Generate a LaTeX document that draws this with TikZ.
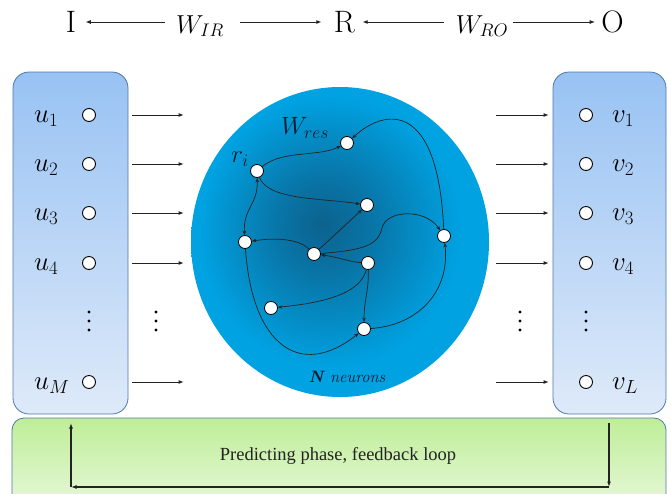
\RequirePackage{fix-cm}
\documentclass[tikz,border=0pt]{standalone}
\usepackage{amsmath}
\usepackage{fontspec}
\usetikzlibrary{arrows.meta}
\newfontfamily\capfont{Liberation Serif}
\definecolor{paneltop}{RGB}{152,194,243}
\definecolor{panelbot}{RGB}{222,234,249}
\definecolor{panelborder}{RGB}{80,118,170}
\definecolor{greentop}{RGB}{190,238,152}
\definecolor{greenbot}{RGB}{232,248,218}
\definecolor{rescenter}{RGB}{12,98,142}
\definecolor{resouter}{RGB}{0,162,226}
\definecolor{navytext}{RGB}{12,26,48}
\definecolor{inkgray}{RGB}{35,35,35}
\pgfdeclareradialshading{resshade}{\pgfpoint{-3bp}{3bp}}{%
  color(0bp)=(rescenter); color(8bp)=(rescenter!70!resouter);
  color(22bp)=(resouter); color(50bp)=(resouter)}
\begin{document}
\begin{tikzpicture}[x=1pt,y=-1pt,
  neuron/.style={circle,draw=black,fill=white,line width=0.8pt,minimum size=13pt,inner sep=0pt},
  port/.style={circle,draw=black,fill=white,line width=0.9pt,minimum size=13pt,inner sep=0pt},
  link/.style={line width=0.7pt,draw=inkgray,>={Stealth[length=4.5pt,width=3.6pt]}},
  flow/.style={line width=1pt,draw=inkgray,-{Latex[length=5.5pt,width=4pt]}},
  fb/.style={line width=1.3pt,draw=inkgray,-{Latex[length=5.5pt,width=4pt]}},
  panel/.style={draw=panelborder,line width=0.8pt,rounded corners=16pt,top color=paneltop,bottom color=panelbot},
  lab/.style={inner sep=0pt,anchor=base west,font=\fontsize{27}{32}\selectfont},
  big/.style={inner sep=0pt,font=\fontsize{31}{36}\selectfont},
  wlab/.style={inner sep=0pt,font=\fontsize{26}{30}\selectfont},
]
\useasboundingbox (0,0) rectangle (671,493);

% ---------- top row ----------
\node[big] (I) at (71,22) {I};
\node[wlab,anchor=base] (WIR) at (200,33) {$W_{IR}$};
\node[big] (R) at (344.5,22) {R};
\node[wlab,anchor=base] (WRO) at (482,33) {$W_{RO}$};
\node[big] (O) at (612.5,22) {O};
\coordinate (t1) at (165,22);
\coordinate (t2) at (240,22);
\coordinate (t3) at (444,22);
\coordinate (t4) at (513,22);
\draw[flow,shorten >=9pt] (t1) -- (I.east);
\draw[flow,shorten >=12pt] (t2) -- (R.west);
\draw[flow,shorten >=7pt] (t3) -- (R.east);
\draw[flow,shorten >=6pt] (t4) -- (O.west);

% ---------- panels ----------
\path[panel] (13,72) rectangle (128,414);
\path[panel] (553,72) rectangle (666,414);
\path[draw=panelborder,line width=0.8pt,rounded corners=12pt,top color=greentop,bottom color=greenbot] (12,418) rectangle (666,508);

% ---------- ports ----------
\foreach \i/\y/\s in {1/115/1,2/164/2,3/213/3,4/263/4,5/382/M}{
  \node[port] (u\i) at (89,\y) {};
  \node[lab] (ul\i) at (34,\y+7) {$u_{\s}$};
  \coordinate (ia\i) at (132,\y);
  \coordinate (ib\i) at (184,\y);
  \draw[flow] (ia\i) -- (ib\i);
}
\foreach \i/\y/\s in {1/115/1,2/164/2,3/213/3,4/263/4,5/382/L}{
  \node[port] (v\i) at (586,\y) {};
  \node[lab] (vl\i) at (612,\y+7) {$v_{\s}$};
  \coordinate (oa\i) at (496,\y);
  \coordinate (ob\i) at (549,\y);
  \draw[flow] (oa\i) -- (ob\i);
}
\foreach \x in {89,156,520,586}{
  \foreach \y in {312,321,330}{
    \fill[black] (\x,\y) circle (1.7pt);
  }
}

% ---------- reservoir ----------
\shade[shading=resshade] (340,242) ellipse [x radius=149,y radius=155];
\node[inner sep=0pt,font=\fontsize{25}{30}\selectfont,text=navytext] (Wres) at (305,128) {$W_{res}$};
\node[inner sep=0pt,font=\fontsize{25}{30}\selectfont,text=navytext] (rilab) at (240,159) {$r_i$};
\node[inner sep=0pt,font=\fontsize{16.5}{19}\selectfont,text=navytext] (Nlab) at (347,377) {\textbf{\textit{N}} \textit{neurons}};

\node[neuron] (A) at (347,143) {};
\node[neuron] (ri) at (257,171) {};
\node[neuron] (B) at (367,205) {};
\node[neuron] (C) at (245,242) {};
\node[neuron] (D) at (314,254) {};
\node[neuron] (E) at (368,263) {};
\node[neuron] (F) at (444,236) {};
\node[neuron] (G) at (271,308) {};
\node[neuron] (H) at (364,329) {};

\draw[link,->] (ri) .. controls (282,150) and (318,157) .. (A);
\draw[link,->] (ri) .. controls (268,200) and (320,198) .. (B);
\draw[link,<->] (ri) .. controls (258,205) and (243,208) .. (C);
\draw[link,->] (D) .. controls (300,240) and (280,237) .. (C);
\draw[link,->] (D) -- (B);
\draw[link,->] (D) .. controls (365,250) and (378,245) .. (382,228) .. controls (386,210) and (425,208) .. (F);
\draw[link,->] (E) .. controls (350,262) and (338,257) .. (D);
\draw[link,->] (E) .. controls (360,295) and (320,303) .. (G);
\draw[link,->] (E) .. controls (369,290) and (364,300) .. (H);
\draw[link,->] (C) .. controls (252,345) and (300,380) .. (H);
\draw[link,->] (H) .. controls (420,325) and (450,290) .. (F);
\draw[link,->] (F) .. controls (438,100) and (385,108) .. (A);

% ---------- feedback loop ----------
\node[inner sep=0pt,font=\capfont\fontsize{18.5}{22}\selectfont,text=inkgray] (fbtext) at (338,456) {Predicting phase, feedback loop};
\coordinate (fr1) at (609,423);
\coordinate (fr2) at (609,487);
\coordinate (fl2) at (71,487);
\coordinate (fl1) at (71,423);
\draw[fb] (fr1) -- (fr2);
\draw[fb] (fr2) -- (fl2);
\draw[fb] (fl2) -- (fl1);
\end{tikzpicture}
\end{document}
